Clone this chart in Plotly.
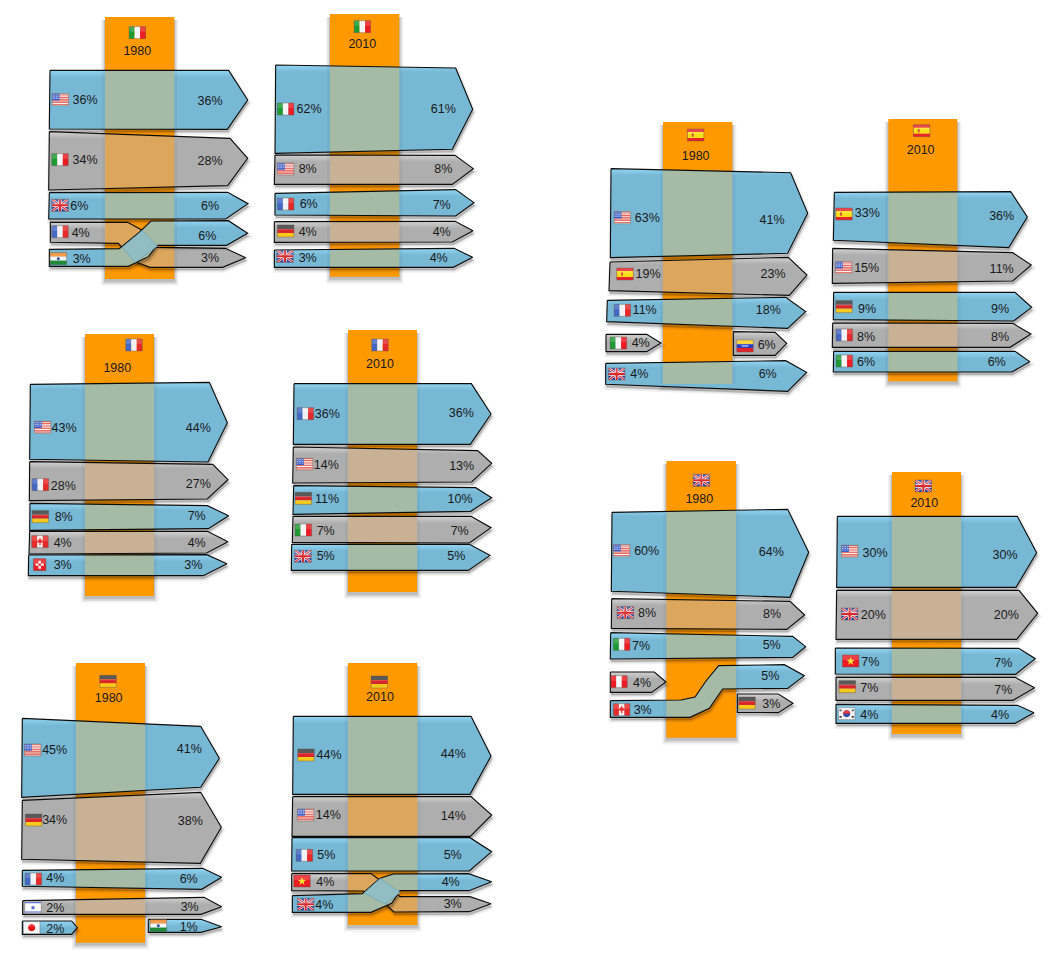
import math
import plotly.graph_objects as go

# ---------- DATA: values ----------
HOSTS = ["IT", "IT", "FR", "FR", "DE", "DE", "ES", "ES", "UK", "UK"]
YEARS = ["1980", "2010", "1980", "2010", "1980", "2010", "1980", "2010", "1980", "2010"]

it80_countries = ["US", "IT", "UK", "FR", "IN"]
it80_left = [36, 34, 6, 4, 3]
it80_right = [36, 28, 6, 3, 6]

it10_countries = ["IT", "US", "FR", "DE", "UK"]
it10_left = [62, 8, 6, 4, 3]
it10_right = [61, 8, 7, 4, 4]

fr80_countries = ["US", "FR", "DE", "CA", "CH"]
fr80_left = [43, 28, 8, 4, 3]
fr80_right = [44, 27, 7, 4, 3]

fr10_countries = ["FR", "US", "DE", "IT", "UK"]
fr10_left = [36, 14, 11, 7, 5]
fr10_right = [36, 13, 10, 7, 5]

de80_countries = ["US", "DE", "FR", "IL", "JP", "IN"]
de80_left = [45, 34, 4, 2, 2, None]
de80_right = [41, 38, 6, 3, None, 1]

de10_countries = ["DE", "US", "FR", "VN", "UK"]
de10_left = [44, 14, 5, 4, 4]
de10_right = [44, 14, 5, 3, 4]

es80_countries = ["US", "ES", "FR", "IT", "VE", "UK"]
es80_left = [63, 19, 11, 4, None, 4]
es80_right = [41, 23, 18, None, 6, 6]

es10_countries = ["ES", "US", "DE", "FR", "IT"]
es10_left = [33, 15, 9, 8, 6]
es10_right = [36, 11, 9, 8, 6]

uk80_countries = ["US", "UK", "IT", "PE", "CA", "DE"]
uk80_left = [60, 8, 7, 4, 3, None]
uk80_right = [64, 8, 5, None, 5, 3]

uk10_countries = ["US", "UK", "VN", "DE", "KR"]
uk10_left = [30, 20, 7, 7, 4]
uk10_right = [30, 20, 7, 7, 4]

COUNTRIES = [it80_countries, it10_countries, fr80_countries, fr10_countries, de80_countries,
             de10_countries, es80_countries, es10_countries, uk80_countries, uk10_countries]
LEFTS = [it80_left, it10_left, fr80_left, fr10_left, de80_left,
         de10_left, es80_left, es10_left, uk80_left, uk10_left]
RIGHTS = [it80_right, it10_right, fr80_right, fr10_right, de80_right,
          de10_right, es80_right, es10_right, uk80_right, uk10_right]

# ---------- STYLE ----------
ORANGE = "#ff9900"
BLUE, BLUE_TOP = "#77b8d5", "#93d5f2"
GREY, GREY_TOP = "#aeaeae", "#d2d2d2"
GREEN_C, TAN_C, OCHRE_C, TEAL_C = "#a5bba5", "#c9b196", "#dca75c", "#92bdc2"
FONT = "Liberation Sans"


# ---------- LAYOUT of the hand-placed ribbons (units: 1/3 px from panel origin) ----------
def arrow(a, b, c, d, e, f, g, h, i, j):
    return [(a, b), (e, f), (g, h), (i, j), (c, d)]


B, G = "B", "G"
PANELS = [
    dict(o=(40, 10), col=(195, 403, 21, 807), flag=(292, 68), year=(292, 122), rows=[
        (B, GREEN_C, arrow(30, 181, 28, 357, 566, 181, 623, 270, 562, 358), (61, 269), (135, 269), (510, 272)),
        (G, OCHRE_C, arrow(28, 365, 26, 540, 570, 385, 623, 445, 563, 527), (60, 449), (135, 450), (510, 452)),
        (B, GREEN_C, arrow(28, 548, 26, 627, 563, 547, 624, 581, 557, 627), (60, 586), (118, 587), (510, 587)),
        (G, OCHRE_C, [(31, 637), (263, 637), (305, 660), (350, 712), (556, 715), (617, 743), (548, 772),
                      (330, 772), (285, 755), (235, 700), (31, 697)], (60, 665), (122, 668), (510, 743)),
        (B, GREEN_C, [(28, 718), (238, 716), (300, 665), (333, 633), (565, 632), (623, 670), (560, 706),
                      (352, 706), (325, 740), (265, 769), (28, 769)], (55, 746), (125, 746), (502, 678)),
    ], overlap=[(247, 712), (307, 662), (352, 708), (285, 757)]),
    dict(o=(265, 5), col=(195, 403, 27, 815), flag=(292, 65), year=(292, 118), rows=[
        (B, GREEN_C, arrow(32, 180, 30, 445, 572, 189, 623, 313, 562, 433), (62, 312), (132, 312), (535, 312)),
        (G, TAN_C, arrow(30, 450, 28, 538, 570, 451, 625, 491, 562, 538), (62, 492), (128, 491), (535, 493)),
        (B, GREEN_C, arrow(30, 565, 30, 630, 572, 554, 627, 593, 572, 633), (62, 597), (131, 596), (530, 599)),
        (G, TAN_C, arrow(28, 650, 28, 712, 570, 649, 624, 677, 562, 711), (62, 678), (128, 680), (530, 680)),
        (B, GREEN_C, arrow(28, 735, 28, 787, 567, 730, 623, 757, 565, 787), (60, 754), (128, 759), (521, 759)),
    ]),
    dict(o=(20, 325), col=(195, 402, 27, 813), flag=(342, 60), year=(292, 128), rows=[
        (B, GREEN_C, arrow(31, 178, 29, 403, 568, 172, 622, 293, 564, 411), (68, 307), (132, 309), (535, 309)),
        (G, TAN_C, arrow(29, 410, 28, 527, 578, 418, 624, 464, 562, 522), (61, 479), (130, 483), (535, 477)),
        (B, GREEN_C, arrow(30, 535, 29, 616, 562, 542, 626, 572, 565, 611), (61, 575), (131, 575), (530, 574)),
        (G, TAN_C, arrow(29, 619, 27, 687, 562, 619, 624, 650, 560, 684), (60, 650), (128, 654), (530, 653)),
        (B, GREEN_C, arrow(26, 690, 25, 752, 560, 689, 621, 716, 550, 752), (59, 719), (128, 721), (520, 721)),
    ]),
    dict(o=(285, 325), col=(189, 396, 15, 801), flag=(285, 60), year=(285, 116), rows=[
        (B, GREEN_C, arrow(27, 176, 25, 358, 559, 176, 618, 267, 556, 358), (61, 266), (127, 266), (529, 263)),
        (G, TAN_C, arrow(25, 366, 23, 474, 578, 377, 620, 415, 560, 471), (59, 418), (124, 420), (530, 423)),
        (B, GREEN_C, arrow(26, 482, 24, 568, 572, 488, 620, 518, 557, 559), (55, 520), (126, 521), (525, 521)),
        (G, TAN_C, arrow(24, 574, 22, 652, 558, 574, 618, 608, 553, 654), (55, 615), (122, 618), (524, 618)),
        (B, GREEN_C, arrow(20, 658, 19, 736, 553, 658, 615, 691, 550, 736), (54, 694), (122, 692), (514, 692)),
    ]),
    dict(o=(15, 655), col=(183, 390, 24, 863), flag=(279, 79), year=(281, 128), rows=[
        (B, GREEN_C, arrow(22, 190, 20, 427, 557, 214, 613, 310, 557, 397), (53, 285), (119, 285), (523, 282)),
        (G, TAN_C, arrow(22, 436, 20, 613, 557, 412, 619, 517, 556, 625), (56, 495), (119, 494), (526, 497)),
        (B, GREEN_C, arrow(22, 646, 22, 694, 563, 640, 620, 667, 560, 703), (55, 672), (121, 669), (521, 671)),
        (G, TAN_C, arrow(23, 737, 23, 778, 567, 727, 620, 755, 558, 778), (54, 757), (121, 759), (524, 757)),
        (B, GREEN_C, arrow(22, 798, 22, 838, 170, 798, 187, 818, 170, 838), (50, 818), (121, 821), None),
        (B, GREEN_C, arrow(400, 793, 400, 832, 558, 793, 620, 815, 558, 832), (430, 812), None, (521, 816)),
    ]),
    dict(o=(285, 655), col=(189, 397, 24, 810), flag=(283, 81), year=(285, 125), rows=[
        (B, GREEN_C, arrow(25, 184, 23, 418, 558, 184, 618, 303, 555, 418), (63, 300), (132, 300), (505, 296)),
        (G, OCHRE_C, arrow(23, 425, 21, 544, 558, 425, 620, 480, 556, 544), (62, 480), (130, 480), (505, 482)),
        (B, GREEN_C, arrow(21, 548, 20, 648, 555, 548, 620, 590, 553, 648), (58, 601), (124, 599), (503, 599)),
        (G, OCHRE_C, [(20, 656), (258, 656), (280, 672), (345, 725), (555, 725), (618, 746), (553, 770),
                      (327, 771), (300, 745), (235, 708), (20, 707)], (51, 678), (121, 680), (503, 746)),
        (B, GREEN_C, [(22, 722), (232, 716), (262, 690), (285, 670), (325, 657), (550, 656), (620, 680),
                      (552, 707), (345, 707), (320, 745), (258, 772), (22, 772)], (62, 748), (118, 749), (497, 680)),
    ], overlap=[(237, 714), (285, 671), (345, 712), (302, 747)]),
    dict(o=(595, 115), col=(204, 412, 21, 807), flag=(302, 60), year=(302, 122), rows=[
        (B, GREEN_C, arrow(48, 161, 46, 428, 587, 173, 638, 295, 578, 415), (82, 308), (157, 308), (531, 314)),
        (G, OCHRE_C, arrow(45, 441, 42, 527, 580, 427, 636, 480, 583, 541), (90, 477), (159, 477), (534, 477)),
        (B, GREEN_C, arrow(37, 556, 35, 620, 572, 547, 632, 590, 578, 640), (82, 586), (149, 584), (520, 584)),
        (G, TAN_C, arrow(33, 658, 33, 710, 155, 658, 198, 684, 155, 710), (70, 684), (137, 684), None),
        (G, TAN_C, arrow(415, 650, 415, 721, 540, 652, 575, 685, 540, 721), (450, 693), None, (515, 689)),
        (B, GREEN_C, arrow(32, 745, 32, 808, 572, 737, 635, 772, 578, 829), (65, 777), (133, 778), (518, 776)),
    ]),
    dict(o=(825, 115), col=(190, 397, 12, 799), flag=(290, 47), year=(287, 104), rows=[
        (B, GREEN_C, arrow(28, 232, 25, 376, 557, 230, 607, 306, 551, 398), (57, 297), (127, 295), (530, 302)),
        (G, TAN_C, arrow(23, 400, 22, 505, 563, 413, 619, 450, 563, 498), (56, 458), (125, 458), (530, 461)),
        (B, GREEN_C, arrow(26, 532, 25, 614, 570, 532, 620, 577, 566, 618), (57, 575), (126, 581), (525, 583)),
        (G, TAN_C, arrow(23, 624, 22, 697, 563, 625, 618, 657, 555, 697), (58, 660), (123, 665), (525, 665)),
        (B, GREEN_C, arrow(26, 709, 25, 771, 570, 709, 614, 740, 561, 771), (58, 738), (123, 740), (515, 740)),
    ]),
    dict(o=(600, 455), col=(199, 408, 18, 848), flag=(304, 76), year=(298, 131), rows=[
        (B, GREEN_C, arrow(36, 172, 34, 409, 563, 163, 626, 292, 570, 427), (65, 287), (140, 287), (514, 290)),
        (G, OCHRE_C, arrow(35, 431, 34, 520, 570, 439, 614, 480, 560, 523), (76, 473), (141, 473), (516, 477)),
        (B, GREEN_C, arrow(32, 533, 31, 612, 578, 544, 617, 575, 578, 607), (65, 568), (123, 572), (515, 571)),
        (G, TAN_C, arrow(31, 651, 31, 712, 163, 651, 198, 681, 155, 712), (57, 680), (126, 683), None),
        (B, GREEN_C, [(31, 737), (243, 735), (285, 726), (318, 678), (356, 632), (553, 629), (613, 662),
                      (563, 700), (368, 702), (328, 760), (270, 787), (31, 787)], (65, 764), (128, 764), (511, 662)),
        (G, TAN_C, arrow(412, 717, 412, 772, 535, 717, 579, 745, 535, 773), (441, 744), None, (514, 746)),
    ]),
    dict(o=(825, 465), col=(201, 408, 21, 807), flag=(295, 63), year=(298, 113), rows=[
        (B, GREEN_C, arrow(37, 154, 35, 367, 577, 154, 635, 263, 573, 367), (74, 259), (150, 263), (540, 269)),
        (G, TAN_C, arrow(35, 376, 33, 523, 582, 376, 638, 445, 575, 523), (74, 447), (145, 450), (544, 450)),
        (B, GREEN_C, arrow(31, 549, 31, 627, 581, 550, 631, 581, 572, 628), (77, 588), (136, 590), (535, 593)),
        (G, TAN_C, arrow(33, 637, 33, 706, 570, 637, 629, 668, 564, 706), (67, 665), (133, 668), (535, 675)),
        (B, GREEN_C, arrow(33, 718, 33, 775, 577, 721, 627, 743, 570, 775), (65, 746), (133, 749), (525, 750)),
    ]),
]


# ---------- helpers ----------
def clip_half(poly, inside, cross):
    out = []
    for i, p in enumerate(poly):
        q = poly[(i + 1) % len(poly)]
        if inside(p):
            out.append(p)
        if inside(p) != inside(q):
            out.append(cross(p, q))
    return out


def clip_rect(poly, x0, x1, y0, y1):
    def at_x(v):
        return lambda p, q: (v, p[1] + (q[1] - p[1]) * (v - p[0]) / (q[0] - p[0]))

    def at_y(v):
        return lambda p, q: (p[0] + (q[0] - p[0]) * (v - p[1]) / (q[1] - p[1]), v)

    for inside, cross in [(lambda p: p[0] >= x0, at_x(x0)), (lambda p: p[0] <= x1, at_x(x1)),
                          (lambda p: p[1] >= y0, at_y(y0)), (lambda p: p[1] <= y1, at_y(y1))]:
        if not poly:
            return poly
        poly = clip_half(poly, inside, cross)
    return poly


fig = go.Figure()


def add_poly(poly, fill=None, line=None, lw=0, grad=None):
    if not poly:
        return
    pts = list(poly) + [poly[0]]
    kw = dict(x=[p[0] for p in pts], y=[p[1] for p in pts], mode="lines", hoverinfo="skip",
              showlegend=False, line=dict(color=line or "rgba(0,0,0,0)", width=lw))
    if fill or grad:
        kw["fill"] = "toself"
    if fill:
        kw["fillcolor"] = fill
    if grad:
        kw["fillgradient"] = grad
    fig.add_trace(go.Scatter(**kw))


SHAPES = []


def path_of(poly):
    return "M" + "L".join(f"{x:.2f},{y:.2f}" for x, y in poly) + "Z"


def shape(paths, color, opacity=1.0):
    if isinstance(paths, list):
        paths = "".join(paths)
    SHAPES.append(dict(type="path", path=paths, xref="x", yref="y", fillcolor=color, opacity=opacity,
                       line=dict(width=0), layer="above"))


def flag(code, cx, cy):
    w, h = (12.5, 12.0) if code == "CH" else (16.5, 12.0)
    x0, y0 = cx - w / 2, cy - h / 2

    def R(a, b, c, d):
        return path_of([(x0 + a * w, y0 + b * h), (x0 + c * w, y0 + b * h), (x0 + c * w, y0 + d * h), (x0 + a * w, y0 + d * h)])

    def circ(u, v, r, start=0, end=360):
        return path_of([(x0 + u * w + r * math.cos(math.radians(a)), y0 + v * h + r * math.sin(math.radians(a)))
                        for a in range(start, end, 30)])

    def star(u, v, r):
        return path_of([(x0 + u * w + (r if k % 2 == 0 else r * .42) * math.sin(k * math.pi / 5),
                         y0 + v * h - (r if k % 2 == 0 else r * .42) * math.cos(k * math.pi / 5)) for k in range(10)])

    def band(colors, vertical=False):
        n = len(colors)
        for k, c in enumerate(colors):
            shape(R(k / n, 0, (k + 1) / n, 1) if vertical else R(0, k / n, 1, (k + 1) / n), c)

    if code == "US":
        shape(R(0, 0, 1, 1), "#f6f0f0")
        shape([R(0, k / 7, 1, (k + .5) / 7) for k in range(7)], "#e0483c")
        shape(R(0, 0, .45, .56), "#3a5cc8")
        shape([R(.04 + i * .1, .08 + j * .15, .08 + i * .1, .14 + j * .15) for i in range(4) for j in range(3)], "#ffffff")
    elif code == "IT":
        band(["#1e9a32", "#f4f4f4", "#ec1c24"], True)
    elif code == "FR":
        band(["#4468c4", "#f0f0f4", "#e62a2a"], True)
    elif code == "DE":
        band(["#3a3a3a", "#d8262a", "#f6c91c"])
    elif code == "UK":
        shape(R(0, 0, 1, 1), "#2c3f96")
        sx = lambda u: x0 + u * w
        sy = lambda v: y0 + v * h
        for t, c in ((.13, "#f4f4f4"), (.06, "#d8262a")):
            shape(path_of([(sx(t), sy(0)), (sx(1), sy(1 - t)), (sx(1), sy(1)), (sx(1 - t), sy(1)), (sx(0), sy(t)), (sx(0), sy(0))]), c)
            shape(path_of([(sx(1 - t), sy(0)), (sx(0), sy(1 - t)), (sx(0), sy(1)), (sx(t), sy(1)), (sx(1), sy(t)), (sx(1), sy(0))]), c)
        shape([R(.40, 0, .60, 1), R(0, .36, 1, .64)], "#f4f4f4")
        shape([R(.44, 0, .56, 1), R(0, .42, 1, .58)], "#d8262a")
    elif code == "ES":
        shape(R(0, 0, 1, 1), "#e8242a")
        shape(R(0, .25, 1, .75), "#f7e017")
        shape(R(.26, .36, .38, .64), "#d0503a")
    elif code == "IN":
        band(["#f58a28", "#f6f6f6", "#1f8a38"])
        shape(circ(.5, .5, 1.5), "#3050a0")
    elif code == "CA":
        band(["#e82a2a", "#f6f2f2", "#e82a2a"], True)
        shape(path_of([(cx, cy - 4), (cx + 3.4, cy + .5), (cx + .6, cy + 1.2), (cx + .6, cy + 3.6),
                       (cx - .6, cy + 3.6), (cx - .6, cy + 1.2), (cx - 3.4, cy + .5)]), "#e82a2a")
    elif code == "PE":
        band(["#ec1c24", "#f6f6f6", "#ec1c24"], True)
    elif code == "CH":
        shape(R(0, 0, 1, 1), "#ec1c24")
        shape([R(.4, .17, .6, .83), R(.17, .4, .83, .6)], "#ffffff")
    elif code == "VE":
        band(["#f8d01c", "#2a3fc0", "#e0242a"])
        shape(R(.3, .46, .7, .54), "#ffffff")
    elif code == "IL":
        shape(R(0, 0, 1, 1), "#fafafa")
        shape([R(0, .06, 1, .16), R(0, .84, 1, .94)], "#4a60d0")
        shape(star(.5, .52, 2.6), "#4a60d0")
    elif code == "JP":
        shape(R(0, 0, 1, 1), "#f8f8f8")
        shape(circ(.5, .5, 3.6), "#e8141c")
    elif code == "VN":
        shape(R(0, 0, 1, 1), "#ec1c24")
        shape(star(.5, .52, 4.2), "#fbe032")
    elif code == "KR":
        shape(R(0, 0, 1, 1), "#f6f6f6")
        shape(circ(.5, .5, 3.6), "#3050a8")
        shape(circ(.5, .5, 3.6, 180, 390), "#d8262a")
        shape([R(.06, .16, .2, .3), R(.8, .16, .94, .3), R(.06, .7, .2, .84), R(.8, .7, .94, .84)], "#444444")
    # gloss and rim
    shape(R(0, 0, 1, .42), "#ffffff", .16)
    SHAPES.append(dict(type="rect", x0=x0, x1=x0 + w, y0=y0, y1=y0 + h, xref="x", yref="y",
                       line=dict(color="rgba(90,80,70,0.55)", width=.7), layer="above"))


TEXT_DY = 1.0
tx, ty, tt = [], [], []
for pi, P in enumerate(PANELS):
    ox, oy = P["o"]
    Z = lambda p: (ox + p[0] / 3, oy + p[1] / 3)
    cx0, cx1 = ox + P["col"][0] / 3, ox + P["col"][1] / 3
    cy0, cy1 = oy + P["col"][2] / 3, oy + P["col"][3] / 3
    rect = [(cx0, cy0), (cx1, cy0), (cx1, cy1), (cx0, cy1)]
    # column shadow
    for grow, a in ((4, .05), (2.5, .09), (1, .14)):
        add_poly([(cx0 - grow, cy0 + 3), (cx1 + grow, cy0 + 3), (cx1 + grow, cy1 + 2 + grow * 1.2), (cx0 - grow, cy1 + 2 + grow * 1.2)],
                 fill=f"rgba(0,0,0,{a})")
    add_poly(rect, fill=ORANGE)
    flag(HOSTS[pi], *Z(P["flag"]))
    yx, yy = Z(P["year"])
    tx.append(yx); ty.append(yy + TEXT_DY); tt.append(YEARS[pi])

    for ri, (kind, centre, poly, fpos, lpos, rpos) in enumerate(P["rows"]):
        pts = [Z(p) for p in poly]
        ymin = min(p[1] for p in pts)
        base, top = (BLUE, BLUE_TOP) if kind == B else (GREY, GREY_TOP)
        # soft shadow
        shifted = [(x + 1, y + 3) for x, y in pts]
        add_poly(shifted, fill="rgba(0,0,0,0.10)", line="rgba(0,0,0,0.06)", lw=5)
        add_poly(shifted, fill="rgba(0,0,0,0.12)", line="rgba(0,0,0,0.08)", lw=2)
        add_poly(pts, grad=dict(type="vertical", start=ymin, stop=ymin + 7,
                                colorscale=[[0, top], [1, base]]))
        add_poly(clip_rect(pts, cx0, cx1, cy0, cy1), fill=centre)
        for a, b in ((cx0 - 3, cx0), (cx1, cx1 + 3)):
            add_poly(clip_rect(pts, a, b, cy0, cy1), fill="rgba(0,0,0,0.04)")
        add_poly(pts, line="#0c0c0c", lw=1.1)
        flag(COUNTRIES[pi][ri], *Z(fpos))
        if lpos is not None and LEFTS[pi][ri] is not None:
            x, y = Z(lpos); tx.append(x); ty.append(y + TEXT_DY); tt.append(f"{LEFTS[pi][ri]}%")
        if rpos is not None and RIGHTS[pi][ri] is not None:
            x, y = Z(rpos); tx.append(x); ty.append(y + TEXT_DY); tt.append(f"{RIGHTS[pi][ri]}%")
    if "overlap" in P:
        add_poly([Z(p) for p in P["overlap"]], fill=TEAL_C, line="#6aa6bc", lw=.8)

fig.add_trace(go.Scatter(x=tx, y=ty, text=tt, mode="text", textposition="middle center", hoverinfo="skip",
                         showlegend=False, textfont=dict(family=FONT, size=12.5, color="#1a1a1a")))

fig.update_layout(
    width=1058, height=965, margin=dict(l=0, r=0, t=0, b=0),
    paper_bgcolor="white", plot_bgcolor="white", showlegend=False, hovermode=False, shapes=SHAPES,
    xaxis=dict(range=[0, 1058], visible=False, fixedrange=True),
    yaxis=dict(range=[965, 0], visible=False, fixedrange=True),
)
fig.write_html("out.html", config=dict(displayModeBar=False),
               post_script="document.body.style.margin='0';document.documentElement.style.overflow='hidden';")
